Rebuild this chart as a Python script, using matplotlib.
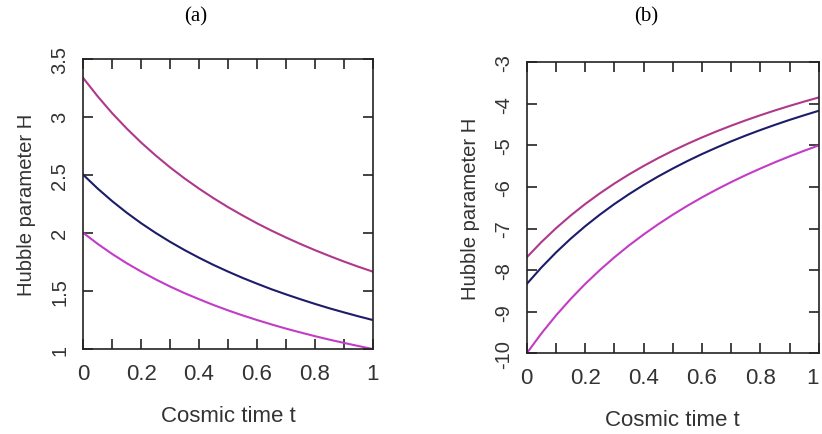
import matplotlib
matplotlib.use("Agg")
import matplotlib.pyplot as plt
import numpy as np

# Cosmic time samples
t = [0.00, 0.05, 0.10, 0.15, 0.20, 0.25, 0.30, 0.35, 0.40, 0.45, 0.50,
     0.55, 0.60, 0.65, 0.70, 0.75, 0.80, 0.85, 0.90, 0.95, 1.00]

# Panel (a)
a_upper = [3.333, 3.175, 3.030, 2.899, 2.778, 2.667, 2.564, 2.469, 2.381, 2.299, 2.222,
           2.151, 2.083, 2.020, 1.961, 1.905, 1.852, 1.802, 1.754, 1.709, 1.667]
a_middle = [2.500, 2.381, 2.273, 2.174, 2.083, 2.000, 1.923, 1.852, 1.786, 1.724, 1.667,
            1.613, 1.563, 1.515, 1.471, 1.429, 1.389, 1.351, 1.316, 1.282, 1.250]
a_lower = [2.000, 1.905, 1.818, 1.739, 1.667, 1.600, 1.538, 1.481, 1.429, 1.379, 1.333,
           1.290, 1.250, 1.212, 1.176, 1.143, 1.111, 1.081, 1.053, 1.026, 1.000]

# Panel (b)
b_upper = [-7.692, -7.326, -6.993, -6.689, -6.410, -6.154, -5.917, -5.698, -5.495, -5.305, -5.128,
           -4.963, -4.808, -4.662, -4.525, -4.396, -4.274, -4.158, -4.049, -3.945, -3.846]
b_middle = [-8.333, -7.937, -7.576, -7.246, -6.944, -6.667, -6.410, -6.173, -5.952, -5.747, -5.556,
            -5.376, -5.208, -5.051, -4.902, -4.762, -4.630, -4.505, -4.386, -4.274, -4.167]
b_lower = [-10.000, -9.524, -9.091, -8.696, -8.333, -8.000, -7.692, -7.407, -7.143, -6.897, -6.667,
           -6.452, -6.250, -6.061, -5.882, -5.714, -5.556, -5.405, -5.263, -5.128, -5.000]

x_major = [0, 0.2, 0.4, 0.6, 0.8, 1]
x_major_labels = ["0", "0.2", "0.4", "0.6", "0.8", "1"]
x_minor = [0.1, 0.3, 0.5, 0.7, 0.9]
a_yticks = [1, 1.5, 2, 2.5, 3, 3.5]
a_ylabels = ["1", "1.5", "2", "2.5", "3", "3.5"]
b_yticks = [-10, -9, -8, -7, -6, -5, -4, -3]
b_ylabels = ["-10", "-9", "-8", "-7", "-6", "-5", "-4", "-3"]

c_up = "#B0388A"
c_mid = "#1C1C6A"
c_low = "#C23CC6"

sans = ["Liberation Sans", "DejaVu Sans"]
serif = ["Liberation Serif", "DejaVu Serif"]

fig = plt.figure(figsize=(8.22, 4.35), dpi=100)
axA = fig.add_axes([0.1013, 0.1954, 0.352, 0.6674])
axB = fig.add_axes([0.6408, 0.1855, 0.3552, 0.669])

def style(ax, yticks, ylabels, ylim):
    ax.set_xlim(0, 1)
    ax.set_ylim(*ylim)
    ax.set_xticks(x_major)
    ax.set_xticks(x_minor, minor=True)
    ax.set_xticklabels(x_major_labels, fontfamily=sans, fontsize=16)
    ax.set_yticks(yticks)
    ax.set_yticklabels(ylabels, fontfamily=sans, fontsize=14.5, rotation=90, va="center")
    ax.tick_params(axis="both", which="both", direction="in", top=True, right=True,
                   length=7.5, width=1.2, color="#222222", labelcolor="#333333")
    ax.tick_params(axis="x", which="both", pad=10)
    ax.tick_params(axis="y", which="both", pad=10)
    for s in ax.spines.values():
        s.set_linewidth(1.2)
        s.set_color("#222222")
    ax.set_xlabel("Cosmic time t", fontfamily=sans, fontsize=16, color="#333333", labelpad=15)
    ax.set_ylabel("Hubble parameter H", fontfamily=sans, fontsize=14.6, color="#333333", labelpad=10)

axA.plot(t, a_upper, color=c_up, lw=1.5)
axA.plot(t, a_middle, color=c_mid, lw=1.5)
axA.plot(t, a_lower, color=c_low, lw=1.5)
style(axA, a_yticks, a_ylabels, (1, 3.5))

axB.plot(t, b_upper, color=c_up, lw=1.5)
axB.plot(t, b_middle, color=c_mid, lw=1.5)
axB.plot(t, b_lower, color=c_low, lw=1.5)
style(axB, b_yticks, b_ylabels, (-10, -3))
# keep the last tick label of panel (b) inside the figure, as in the reference
axB.get_xticklabels()[-1].set_horizontalalignment("right")

fig.text(196 / 822, 1 - 16.5 / 435, "(a)", fontfamily=serif, fontsize=15, ha="center", va="center")
fig.text(646 / 822, 1 - 16.5 / 435, "(b)", fontfamily=serif, fontsize=15, ha="center", va="center")

fig.savefig("out.png", dpi=100)
